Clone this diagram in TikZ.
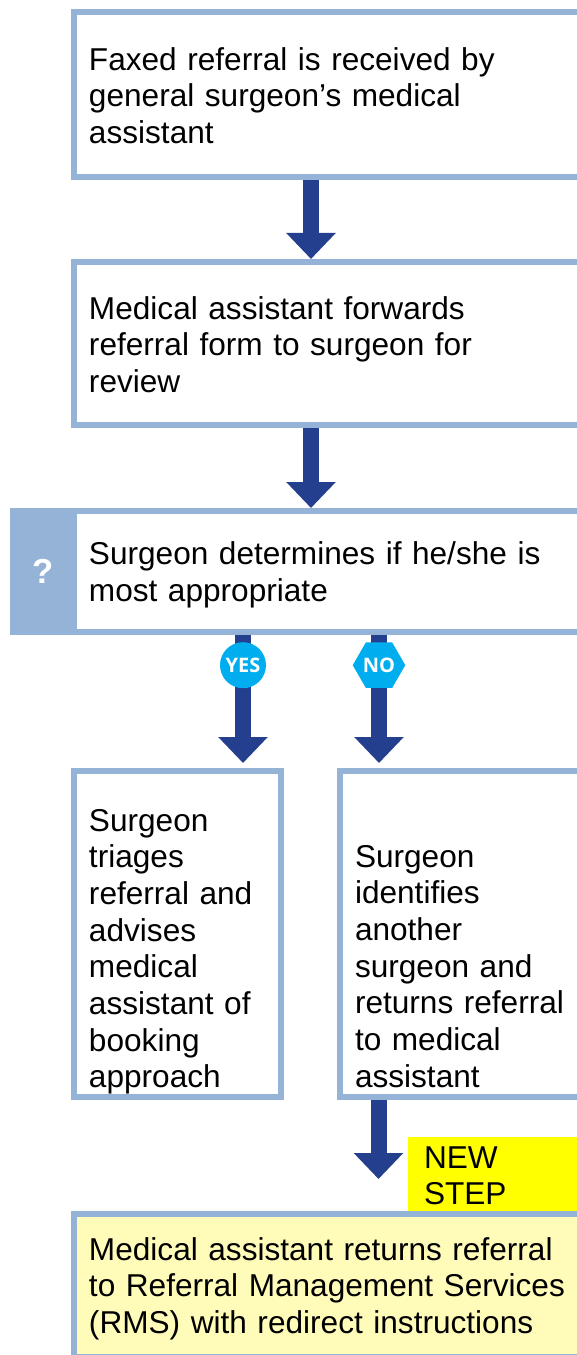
\documentclass[tikz,border=0pt]{standalone}
\usepackage{fontspec}
\setmainfont{Liberation Sans}
\newfontfamily\badgefont{Open Sans}
\usetikzlibrary{arrows.meta,positioning,shapes.geometric}
\definecolor{boxblue}{HTML}{95B3D7}
\definecolor{flowblue}{HTML}{243F8D}
\definecolor{badgeblue}{HTML}{00AEEF}
\definecolor{paleyellow}{HTML}{FFFBB9}
\definecolor{tagyellow}{HTML}{FFFF00}
\tikzset{
    stepbox/.style={
           rectangle,
           draw=boxblue, line width=4.5pt,
           inner xsep=11.25pt,
           inner ysep=0pt,
           align=left,
           font=\fontsize{23.7}{27.5}\selectfont,
           },
    widebox/.style={
           stepbox,
           text width=372pt,
           },
    narrowbox/.style={
           stepbox,
           minimum height=244.5pt,
           },
    panel/.style={
           rectangle,
           fill=boxblue,
           text=white,
           minimum width=50.25pt,
           minimum height=95.25pt,
           inner sep=0pt,
           font=\bfseries\fontsize{26}{28}\selectfont,
           },
    newtag/.style={
           rectangle,
           fill=tagyellow,
           inner xsep=12pt,
           inner ysep=0pt,
           text width=150pt,
           text height=23.25pt,
           text depth=32.25pt,
           align=left,
           font=\fontsize{23.7}{27.5}\selectfont,
           },
    flow/.style={
           draw=flowblue, line width=12pt,
           },
    badge/.style={
           fill=badgeblue,
           text=white,
           inner sep=0pt,
           font=\badgefont\bfseries\fontsize{15}{15}\selectfont,
           },
}

\begin{document}
\begin{tikzpicture}[>={Triangle[length=19.5pt,width=36pt]}, on grid]
  \useasboundingbox (-252.75pt,70.875pt) rectangle (180pt,-945.375pt);
  \node[widebox, text height=43.75pt, text depth=80pt] (faxed) {Faxed referral is received by\\general surgeon’s medical\\assistant};
  \node[widebox, text height=43pt, text depth=79.25pt] (forward) [below=186.75pt of faxed] {Medical assistant forwards\\referral form to surgeon for\\review};
  \node[widebox, text height=40pt, text depth=50.75pt] (decide) [below=171pt of forward] {Surgeon determines if he/she is\\most appropriate};
  \node[panel] (query) [left=220.125pt of decide] {?};
  \node[narrowbox, text width=132.75pt, text height=45pt, text depth=199.5pt] (triage) [below left=271.875pt and 119.625pt of decide] {Surgeon\\triages\\referral and\\advises\\medical\\assistant of\\booking\\approach};
  \node[narrowbox, text width=172.5pt, text height=72pt, text depth=172.5pt] (identify) [right=219.375pt of triage] {Surgeon\\identifies\\another\\surgeon and\\returns referral\\to medical\\assistant};
  \node[widebox, text height=34.5pt, text depth=72.75pt, fill=paleyellow] (final) [below=535.5pt of decide] {Medical assistant returns referral\\to Referral Management Services\\(RMS) with redirect instructions};
  \node[newtag] (newstep) [above right=83.625pt and 140.25pt of final] {NEW\\STEP};
  \path[->]
    ([xshift=180pt]faxed.south west) edge[flow] ([xshift=180pt]forward.north west)
    ([xshift=180pt]forward.south west) edge[flow] ([xshift=180pt]decide.north west)
    ([xshift=129pt]decide.south west) edge[flow, shorten >=3.75pt] node[badge, circle, minimum size=34.5pt, pos=.227] (yes) {YES} ([xshift=129pt]triage.north west)
    ([xshift=231pt]decide.south west) edge[flow, shorten >=3.75pt] node[badge, regular polygon, regular polygon sides=6, minimum size=36pt, pos=.227] (no) {NO} ([xshift=31.5pt]identify.north west)
    ([xshift=31.125pt]identify.south west) edge[flow, shorten >=24pt] ([xshift=230.625pt]final.north west)
    ;
\end{tikzpicture}
\end{document}
